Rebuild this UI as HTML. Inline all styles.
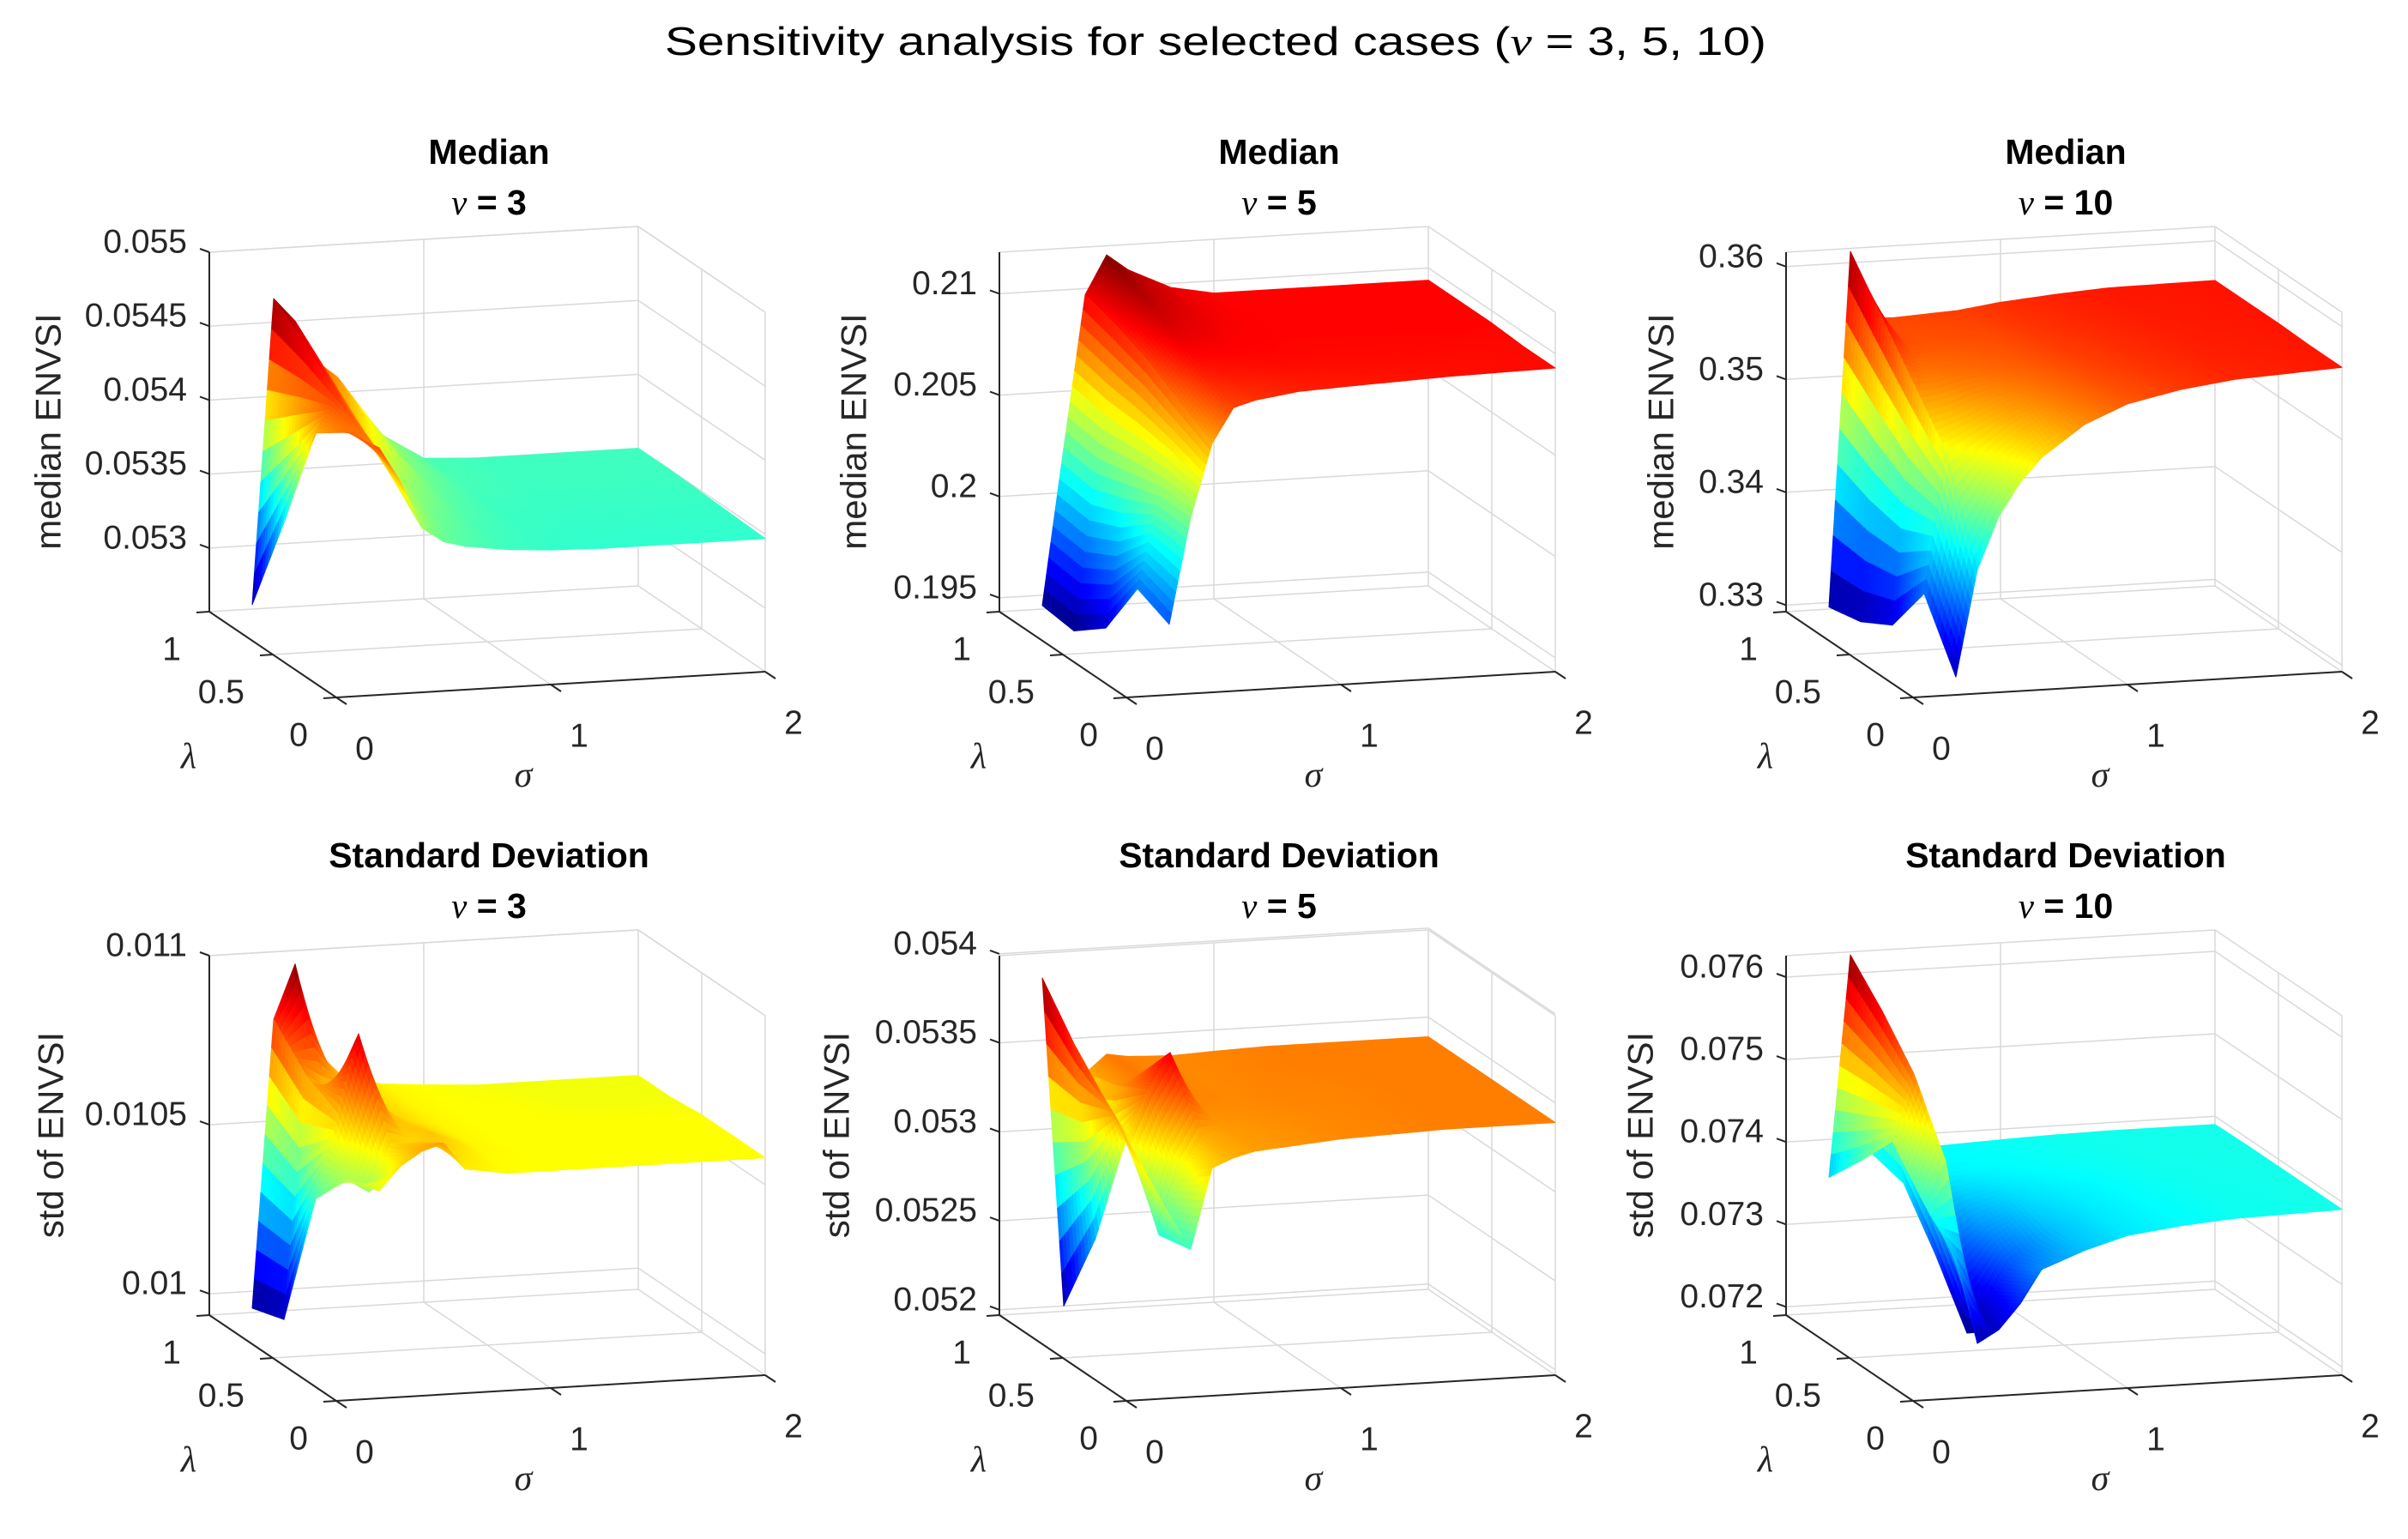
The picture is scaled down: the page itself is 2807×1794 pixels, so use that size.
<!DOCTYPE html>
<html><head><meta charset="utf-8"><style>
html,body{margin:0;padding:0;background:#fff;}
svg{display:block;font-family:"Liberation Sans",Arial,sans-serif;}
</style></head><body>
<svg id="fig" xmlns="http://www.w3.org/2000/svg" width="2807" height="1794" viewBox="0 0 2807 1794">
<rect width="2807" height="1794" fill="#fff"/>
<text x="1417" y="64" font-size="46" text-anchor="middle" fill="#000" textLength="1284" lengthAdjust="spacingAndGlyphs">Sensitivity analysis for selected cases (<tspan font-family="Liberation Serif, serif" font-style="italic">ν</tspan> = 3, 5, 10)</text>
</svg>
<script>
const sigmaVals=[0.2,0.3,0.4,0.5,0.6,0.8,1.0,1.25,1.5,2.0];
const lambdaVals=[0,0.25,0.5,0.75,1];
const zMedian3=[
[.05424,.05400,.05368,.05358,.05354,.05350,.05348,.05347,.05347,.05347],
[.05420,.05415,.05390,.05370,.05360,.05352,.05349,.05348,.05348,.05348],
[.05405,.05430,.05410,.05385,.05370,.05356,.05350,.05349,.05349,.05349],
[.05330,.05450,.05430,.05405,.05390,.05362,.05352,.05350,.05350,.05350],
[.05260,.05466,.05450,.05422,.05410,.05370,.05352,.05350,.05350,.05350]];
const zMedian5=[
[.1978,.2030,.2066,.2083,.2086,.2089,.2090,.2091,.2092,.2093],
[.1985,.2030,.2075,.2090,.2092,.2093,.2093,.2093,.2093,.2093],
[.1955,.2025,.2085,.2100,.2098,.2095,.2094,.2094,.2094,.2094],
[.1943,.2020,.2092,.2108,.2103,.2097,.2094,.2094,.2094,.2094],
[.1945,.2022,.2097,.2116,.2108,.2098,.2094,.2094,.2094,.2094]];
const zMedian10=[
[.3310,.3404,.3450,.3479,.3500,.3527,.3543,.3553,.3559,.3564],
[.3365,.3490,.3500,.3510,.3520,.3535,.3548,.3556,.3561,.3564],
[.3318,.3530,.3530,.3535,.3537,.3543,.3552,.3558,.3562,.3565],
[.3302,.3570,.3548,.3545,.3546,.3548,.3555,.3560,.3563,.3565],
[.3296,.3610,.3550,.3549,.3550,.3552,.3557,.3561,.3564,.3565]];
const zStd3=[
[.01055,.01062,.01066,.01068,.01060,.01058,.01058,.01058,.01058,.01058],
[.01052,.01048,.01062,.01062,.01064,.01059,.01058,.01058,.01058,.01058],
[.01040,.01065,.01088,.01066,.01062,.01059,.01058,.01058,.01058,.01058],
[.00998,.01070,.01061,.01064,.01062,.01059,.01058,.01058,.01057,.01057],
[.00995,.01080,.01096,.01070,.01063,.01059,.01058,.01057,.01057,.01057]];
const zStd5=[
[.05300,.05280,.05325,.05330,.05333,.05335,.05337,.05338,.05339,.05339],
[.05320,.05276,.05310,.05330,.05334,.05336,.05337,.05338,.05339,.05339],
[.05340,.05320,.05345,.05365,.05338,.05337,.05338,.05338,.05339,.05339],
[.05360,.05250,.05335,.05340,.05338,.05337,.05338,.05339,.05339,.05339],
[.05385,.05200,.05330,.05340,.05338,.05337,.05338,.05339,.05339,.05339]];
const zStd10=[
[.0736,.07255,.0727,.0730,.0734,.0736,.07375,.07383,.07388,.07391],
[.0740,.0745,.0724,.07275,.0732,.0736,.07375,.07383,.07388,.07391],
[.0745,.0753,.0731,.0733,.0735,.07370,.07378,.07385,.07389,.07391],
[.0740,.0758,.0737,.07375,.0738,.07382,.07385,.07388,.07390,.07391],
[.07354,.07622,.0738,.0738,.07383,.07385,.07387,.07389,.07390,.07390]];
const ticksMedian3=[0.053,0.0535,0.054,0.0545,0.055];
const ticksMedian5=[0.195,0.2,0.205,0.21];
const ticksMedian10=[0.33,0.34,0.35,0.36];
const ticksStd3=[0.01,0.0105,0.011];
const ticksStd5=[0.052,0.0525,0.053,0.0535,0.054];
const ticksStd10=[0.072,0.073,0.074,0.075,0.076];
const sigmaTicks=[0,1,2];
const lambdaTicks=[0,0.5,1];

const panels=[
 {id:'median-nu3',ox:392,oy:813,zmin:0.05257,zmax:0.055,z:zMedian3,ticks:ticksMedian3,t1:'Median',nu:'3',yl:'median ENVSI',ylx:56},
 {id:'median-nu5',ox:1313,oy:813,zmin:0.19432,zmax:0.21205,z:zMedian5,ticks:ticksMedian5,t1:'Median',nu:'5',yl:'median ENVSI',ylx:995},
 {id:'median-nu10',ox:2230,oy:813,zmin:0.32942,zmax:0.36128,z:zMedian10,ticks:ticksMedian10,t1:'Median',nu:'10',yl:'median ENVSI',ylx:1936},
 {id:'std-nu3',ox:392,oy:1633,zmin:0.009937,zmax:0.011,z:zStd3,ticks:ticksStd3,t1:'Standard Deviation',nu:'3',yl:'std of ENVSI',ylx:59},
 {id:'std-nu5',ox:1313,oy:1633,zmin:0.05197,zmax:0.05399,z:zStd5,ticks:ticksStd5,t1:'Standard Deviation',nu:'5',yl:'std of ENVSI',ylx:975},
 {id:'std-nu10',ox:2230,oy:1633,zmin:0.07190,zmax:0.07626,z:zStd10,ticks:ticksStd10,t1:'Standard Deviation',nu:'10',yl:'std of ENVSI',ylx:1912}
];
const NS='http://www.w3.org/2000/svg';
const svg=document.getElementById('fig');
function mk(tag,attrs,parent){const e=document.createElementNS(NS,tag);for(const k in attrs)e.setAttribute(k,attrs[k]);(parent||svg).appendChild(e);return e;}
function jet(t){t=Math.max(0,Math.min(1,t));const c=v=>Math.round(255*Math.max(0,Math.min(1,v)));
 return 'rgb('+c(1.5-Math.abs(4*t-3))+','+c(1.5-Math.abs(4*t-2))+','+c(1.5-Math.abs(4*t-1))+')';}
function fmt(v){return String(+v.toFixed(5));}

panels.forEach(p=>{
 const g=mk('g',{});
 
 
 const P=(s,l,z)=>[p.ox+250*s-148*l, p.oy-15*s-100*l-(z-p.zmin)/(p.zmax-p.zmin)*419];
 const line=(a,b,col,w,name)=>{const e=mk('line',{x1:a[0].toFixed(1),y1:a[1].toFixed(1),x2:b[0].toFixed(1),y2:b[1].toFixed(1),stroke:col,'stroke-width':w},g);
  return e;};
 const GC='#d9d9d9',AC='#262626';
 const zb=p.zmin,zt=p.zmax;
 line(P(0,1,zb),P(2,1,zb),GC,1.5,'floor-back-edge');
 line(P(2,1,zb),P(2,0,zb),GC,1.5,'floor-right-edge');
 line(P(1,0,zb),P(1,1,zb),GC,1.5,'floor-grid-sigma');
 line(P(0,0.5,zb),P(2,0.5,zb),GC,1.5,'floor-grid-lambda');
 line(P(1,1,zb),P(1,1,zt),GC,1.5,'back-wall-grid-sigma');
 line(P(2,1,zb),P(2,1,zt),GC,1.5,'box-back-corner');
 line(P(2,0,zb),P(2,0,zt),GC,1.5,'box-right-corner');
 line(P(2,0.5,zb),P(2,0.5,zt),GC,1.5,'side-wall-grid-lambda');
 line(P(0,1,zt),P(2,1,zt),GC,1.5,'box-top-back');
 line(P(2,1,zt),P(2,0,zt),GC,1.5,'box-top-right');
 p.ticks.forEach(t=>{line(P(0,1,t),P(2,1,t),GC,1.5,'back-wall-grid-z');line(P(2,1,t),P(2,0,t),GC,1.5,'side-wall-grid-z');});
 const sg=mk('g',{},g);
 
 
 let dmin=Infinity,dmax=-Infinity;p.z.forEach(r=>r.forEach(v=>{dmin=Math.min(dmin,v);dmax=Math.max(dmax,v);}));
 const quads=[];const N=10;
 for(let i=0;i<lambdaVals.length-1;i++)for(let j=0;j<sigmaVals.length-1;j++){
  const z00=p.z[i][j],z01=p.z[i][j+1],z10=p.z[i+1][j],z11=p.z[i+1][j+1];
  for(let a=0;a<N;a++)for(let b=0;b<N;b++){
   const pts=[[a,b],[a,b+1],[a+1,b+1],[a+1,b]].map(([u,v])=>{u/=N;v/=N;
    const s=sigmaVals[j]+(sigmaVals[j+1]-sigmaVals[j])*v,l=lambdaVals[i]+(lambdaVals[i+1]-lambdaVals[i])*u;
    const z=z00*(1-u)*(1-v)+z01*(1-u)*v+z10*u*(1-v)+z11*u*v;return {s,l,z};});
   const zc=pts.reduce((q,r)=>q+r.z,0)/4,sc=pts.reduce((q,r)=>q+r.s,0)/4,lc=pts.reduce((q,r)=>q+r.l,0)/4;
   quads.push({pts,zc,d:100*lc+15*sc});
  }}
 quads.sort((a,b)=>b.d-a.d);
 quads.forEach(q=>{const col=jet((q.zc-dmin)/(dmax-dmin));
  const e=mk('polygon',{points:q.pts.map(r=>P(r.s,r.l,r.z).map(v=>v.toFixed(1)).join(',')).join(' '),fill:col,stroke:col,'stroke-width':1,'stroke-linejoin':'round'},sg);
  
  
 });
 line(P(0,1,zb),P(0,1,zt),AC,2,'z-axis');
 line(P(0,1,zb),P(0,0,zb),AC,2,'lambda-axis');
 line(P(0,0,zb),P(2,0,zb),AC,2,'sigma-axis');
 p.ticks.forEach((t,k)=>{const a=P(0,1,t);line(a,[a[0]-11,a[1]-4],AC,2,'z-tick');
  const tx=mk('text',{x:(a[0]-26).toFixed(1),y:(a[1]-12).toFixed(1),'font-size':39,'text-anchor':'end','dominant-baseline':'central',fill:AC},g);
  tx.textContent=fmt(t);
  });
 sigmaTicks.forEach(s=>{const a=P(s,0,zb);line(a,[a[0]+12,a[1]+8],AC,2,'sigma-tick');
  const tx=mk('text',{x:(a[0]+33).toFixed(1),y:(a[1]+60).toFixed(1),'font-size':39,'text-anchor':'middle','dominant-baseline':'central',fill:AC},g);
  tx.textContent=fmt(s);
  });
 lambdaTicks.forEach(l=>{const a=P(0,l,zb);line(a,[a[0]-15,a[1]+1],AC,2,'lambda-tick');
  const tx=mk('text',{x:(a[0]-33).toFixed(1),y:(a[1]+44).toFixed(1),'font-size':39,'text-anchor':'end','dominant-baseline':'central',fill:AC},g);
  tx.textContent=fmt(l);
  });
 const lt=mk('text',{x:p.ox-172,y:p.oy+69,'font-size':42,'font-family':'Liberation Serif, serif','font-style':'italic','text-anchor':'middle','dominant-baseline':'central',fill:AC},g);
 lt.textContent='λ';
 const st=mk('text',{x:p.ox+218,y:p.oy+91,'font-size':42,'font-family':'Liberation Serif, serif','font-style':'italic','text-anchor':'middle','dominant-baseline':'central',fill:AC},g);
 st.textContent='σ';
 const yl=mk('text',{x:p.ylx,y:p.oy-310,'font-size':42,'text-anchor':'middle','dominant-baseline':'central',fill:AC,transform:'rotate(-90 '+p.ylx+' '+(p.oy-310)+')'},g);
 yl.textContent=p.yl;
 const cx=p.ox+178;
 const t1=mk('text',{x:cx,y:p.oy-636,'font-size':41,'font-weight':'bold','text-anchor':'middle','dominant-baseline':'central',fill:'#000'},g);
 t1.textContent=p.t1;
 const t2=mk('text',{x:cx,y:p.oy-577,'font-size':41,'font-weight':'bold','text-anchor':'middle','dominant-baseline':'central',fill:'#000'},g);
 
 const nu=mk('tspan',{'font-family':'Liberation Serif, serif','font-style':'italic','font-weight':'normal'},t2);nu.textContent='ν';
 t2.appendChild(document.createTextNode(' = '+p.nu));
});
</script>
</body></html>
